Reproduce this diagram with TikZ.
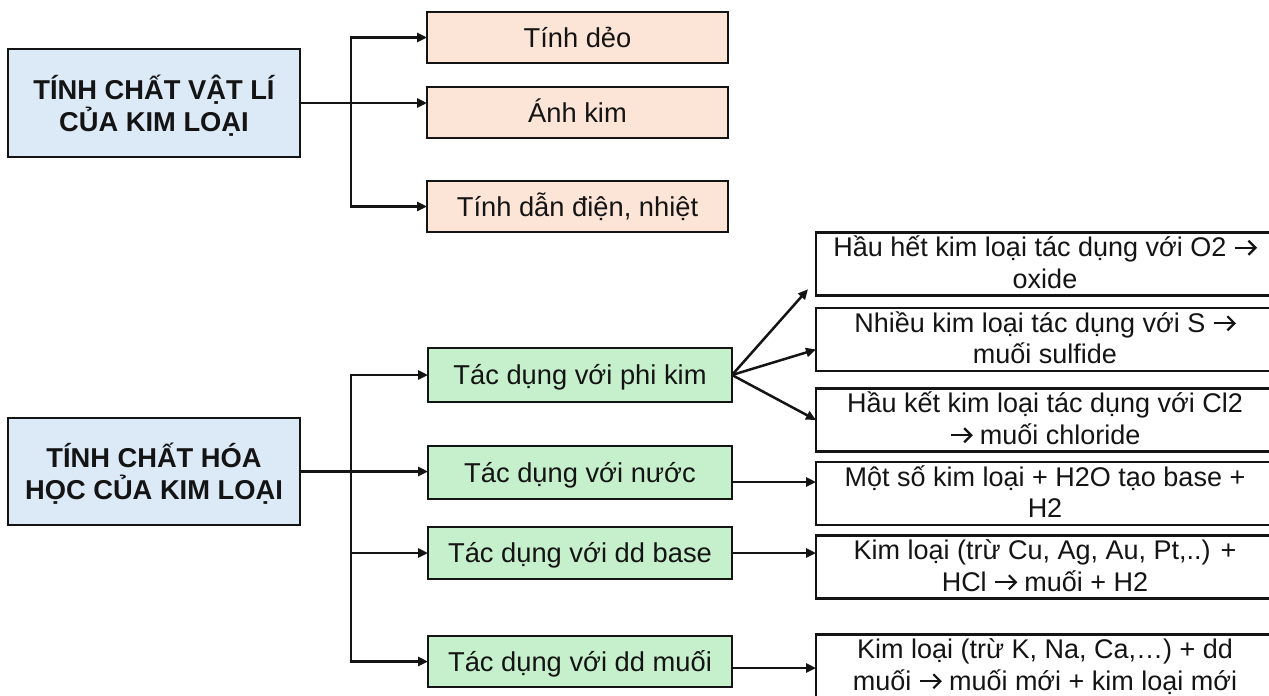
\documentclass[tikz,border=0pt]{standalone}
\usepackage{fontspec}
\setmainfont{Liberation Sans}
\usetikzlibrary{arrows.meta}

\definecolor{headfill}{RGB}{220,233,247}
\definecolor{physfill}{RGB}{252,228,214}
\definecolor{chemfill}{RGB}{198,240,203}
\definecolor{inkline}{RGB}{20,20,20}

% first-line / last-line struts for two-line boxes
\newcommand\firstrow{\rule{0pt}{24pt}}
\newcommand\lastrow{\rule[-7pt]{0pt}{7pt}}
\newcommand\headtop{\rule{0pt}{30pt}}
\newcommand\headbot{\rule[-6pt]{0pt}{6pt}}
% open-headed "yields" arrow used inside the notes
\newcommand\yields{\tikz[baseline=0pt, x=1pt, y=1pt]{%
  \draw[inkline, line width=2.2pt] (0,9) -- (20,9);
  \draw[inkline, line width=2.2pt, line join=miter] (13.5,16) -- (20.5,9) -- (13.5,2);}}

\tikzset{
  box/.style={draw=inkline, line width=2.6pt, inner sep=0pt, outer sep=0pt,
              text=inkline, align=center},
  headbox/.style={box, fill=headfill, minimum width=292pt,
                  font={\fontsize{27.3}{32}\selectfont\bfseries\lineskiplimit=-20pt}},
  physbox/.style={box, fill=physfill, minimum width=301pt, minimum height=51pt,
                  text height=19.5pt, text depth=0pt,
                  font={\fontsize{27.3}{31.5}\selectfont}},
  chembox/.style={box, fill=chemfill, minimum width=304pt,
                  text height=19.5pt, text depth=0pt,
                  font={\fontsize{27.3}{31.5}\selectfont}},
  notebox/.style={box, fill=white, minimum width=458pt, minimum height=62pt,
                  font={\fontsize{27}{31.5}\selectfont\lineskiplimit=-20pt}},
  conn/.style={draw=inkline, line width=2.5pt,
               -{Triangle[length=10pt,width=9pt]}}
}

\begin{document}
\begin{tikzpicture}[x=1pt, y=-1pt]
\useasboundingbox (0,0) rectangle (1269,696);
\clip (0,0) rectangle (1269,696);
\fill[white] (0,0) rectangle (1269,696);

% physical properties
\node[headbox, minimum height=108pt] (phys) at (154,103)
  {\headtop TÍNH CHẤT VẬT LÍ\\ CỦA KIM LOẠI\headbot};
\node[physbox] (deo)  at (577.5,37.5)  {Tính dẻo};
\node[physbox] (anh)  at (577.5,112.5) {Ánh kim};
\node[physbox] (dan)  at (577.5,206.5) {Tính dẫn điện, nhiệt};

% chemical properties
\node[headbox, minimum height=107pt] (chem) at (154,471.5)
  {\headtop TÍNH CHẤT HÓA\\ HỌC CỦA KIM LOẠI\headbot};
\node[chembox, minimum height=54pt] (phikim) at (580,375)   {Tác dụng với phi kim};
\node[chembox, minimum height=53pt] (nuoc)   at (580,472.5) {Tác dụng với nước};
\node[chembox, minimum height=52pt] (base)   at (580,553)   {Tác dụng với dd base};
\node[chembox, minimum height=51pt] (muoi)   at (580,661.5) {Tác dụng với dd muối};

% reaction notes
\node[notebox] (oxi) at (1045,264)
  {\firstrow Hầu hết kim loại tác dụng với O2 \yields\\ oxide\lastrow};
\node[notebox, minimum height=63pt] (luuhuynh) at (1045,339.5)
  {\firstrow Nhiều kim loại tác dụng với S \yields\\ muối sulfide\lastrow};
\node[notebox] (clo) at (1045,420)
  {\firstrow Hầu kết kim loại tác dụng với Cl2\\ \yields{} muối chloride\lastrow};
\node[notebox, minimum height=63pt] (nuocnote) at (1045,493.5)
  {\firstrow Một số kim loại + H2O tạo base +\\ H2\lastrow};
\node[notebox] (basenote) at (1045,567)
  {\firstrow Kim loại (trừ Cu, Ag, Au, Pt,..) +\\ HCl \yields{} muối + H2\lastrow};
\node[notebox] (muoinote) at (1045,666)
  {\firstrow Kim loại (trừ K, Na, Ca,…) + dd\\ muối \yields{} muối mới + kim loại mới\lastrow};

% connectors: physical branch
\coordinate (tk1) at (351,103);
\draw[conn] (phys.east) -- (phys.east -| anh.west);
\draw[conn] (tk1) |- (deo.west);
\draw[conn] (tk1) |- (dan.west);

% connectors: chemical branch
\coordinate (tk2) at (351,471.5);
\draw[conn] (chem.east) -- (chem.east -| nuoc.west);
\draw[conn] (tk2) |- (phikim.west);
\draw[conn] (tk2) |- (base.west);
\draw[conn] (tk2) |- (muoi.west);

% connectors to the notes
\draw[conn] (phikim.east) -- ([shift={(-8pt,6pt)}]oxi.south west);
\draw[conn] (phikim.east) -- ([yshift=-10pt]luuhuynh.west);
\draw[conn] (phikim.east) -- (clo.west);
\coordinate (n4) at ([yshift=-9.5pt]nuoc.east);
\draw[conn] (n4) -- (n4 -| nuocnote.west);
\draw[conn] (base.east) -- (base.east -| basenote.west);
\coordinate (n6) at ([yshift=-6.5pt]muoi.east);
\draw[conn] (n6) -- (n6 -| muoinote.west);
\end{tikzpicture}
\end{document}
